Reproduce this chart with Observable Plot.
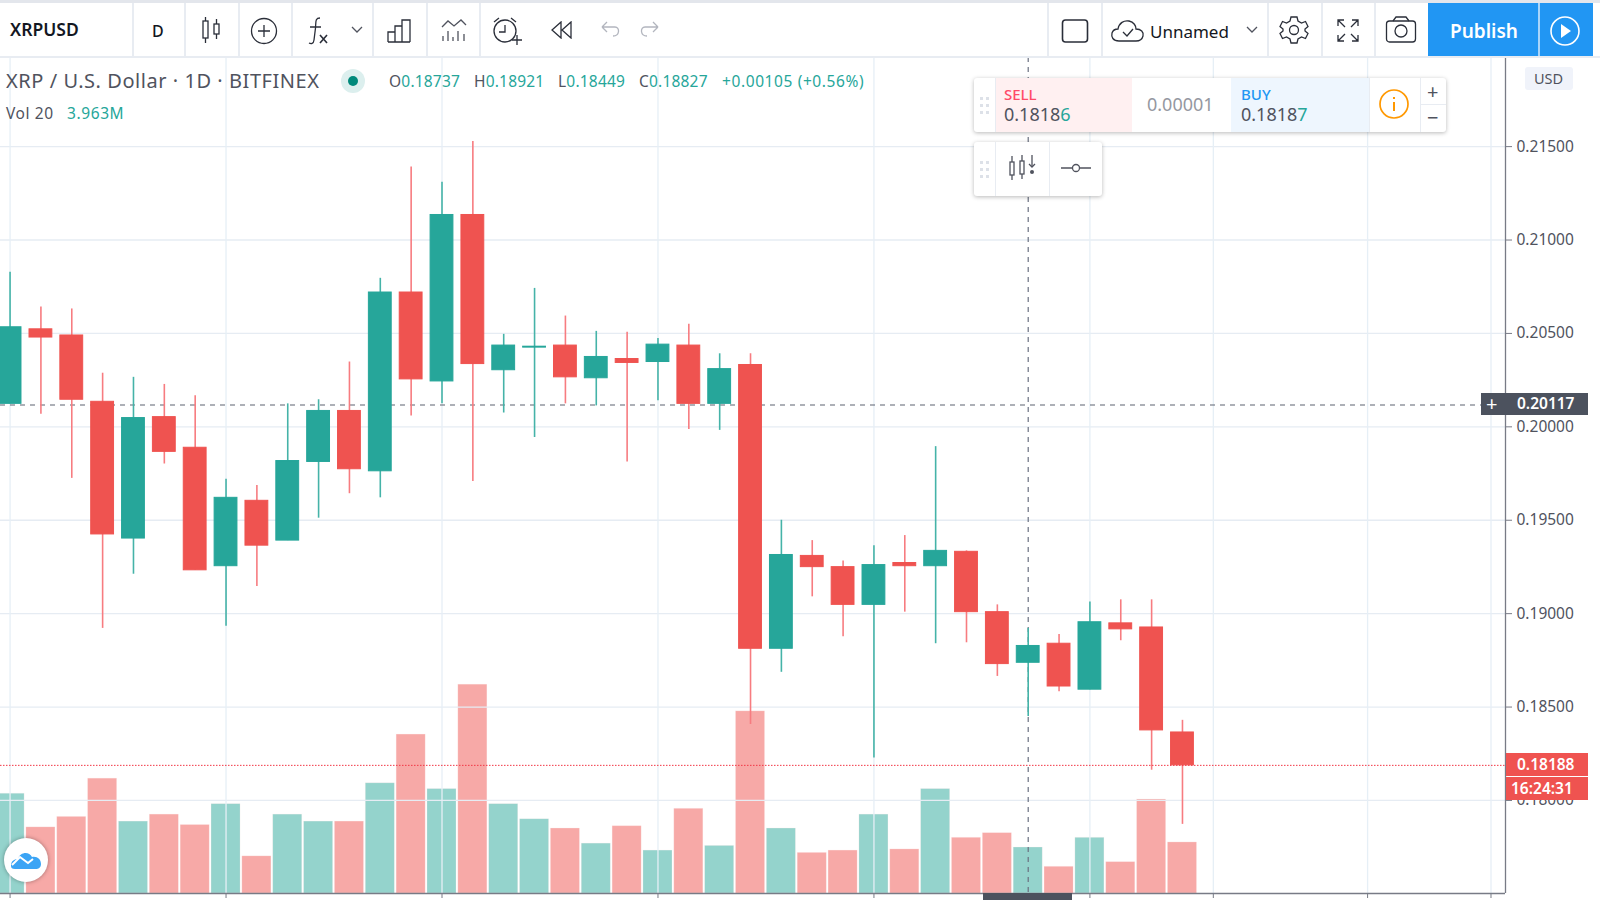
<!DOCTYPE html>
<html><head><meta charset="utf-8">
<script src="https://cdn.jsdelivr.net/npm/d3@7"></script>
<script src="https://cdn.jsdelivr.net/npm/@observablehq/plot@0.6"></script>
<style>
html,body{margin:0;padding:0;background:#fff;width:1600px;height:900px;overflow:hidden;font-family:"Noto Sans",sans-serif}
#stage{position:relative;width:1600px;height:900px;overflow:hidden}
#stage>div.layer{position:absolute;left:0;top:0;width:1600px;height:900px}
.t{position:absolute;white-space:nowrap;line-height:1;transform:translateY(-50%)}
.box{position:absolute}
svg.ic{position:absolute;fill:none;stroke:#2a2e39;stroke-width:1.3}
</style></head><body><div id="stage"></div>
<script>
const highs=[.20828,.20642,.20631,.20287,.20265,.20227,.20167,.19719,.19686,.20123,.20145,.20347,.20795,.21391,.21309,.21527,.20495,.20741,.20593,.20511,.20506,.20473,.20549,.20391,.20391,.195,.19391,.19282,.19364,.19418,.19894,.19336,.19047,.18921,.18888,.19063,.19074,.19074,.18429];
const lows=[.20123,.20068,.19724,.18921,.19211,.19801,.19232,.18932,.19145,.19391,.19511,.19642,.1962,.20058,.20123,.19708,.20074,.19943,.20123,.20112,.19812,.20139,.19986,.19981,.18407,.18686,.1909,.18877,.18227,.19008,.18839,.18844,.18664,.18449,.18582,.18593,.18855,.18162,.17872];
const opens=[.20123,.20522,.20489,.20134,.19402,.20052,.19888,.19254,.19604,.19391,.19812,.20085,.19762,.20719,.20243,.21134,.20303,.20424,.20435,.2026,.20363,.20347,.20435,.20123,.20331,.18812,.19309,.19249,.19047,.19271,.19254,.19331,.19008,.18737,.18839,.18593,.18948,.18926,.18364];
const closes=[.20533,.20478,.20145,.19424,.20047,.19866,.19232,.1962,.19364,.19817,.20085,.19773,.20719,.20254,.21134,.20336,.20435,.20429,.20265,.20374,.20342,.2044,.20123,.20309,.18812,.19314,.19249,.19047,.1926,.19254,.19336,.19008,.1873,.18827,.1861,.18954,.18916,.18375,.18188];
const volumes=[8.6,5.7,6.6,9.9,6.2,6.8,5.9,7.7,3.2,6.8,6.2,6.2,9.5,13.7,9.0,18.0,7.7,6.4,5.6,4.3,5.8,3.7,7.3,4.1,15.7,5.6,3.5,3.7,6.8,3.8,9.0,4.8,5.2,3.963,2.3,4.8,2.7,8.1,4.4];
const priceTicks=[.215,.21,.205,.2,.195,.19,.185,.18];
const gridIdx=[0,7,14,21,28,35,39,44,48];
const crossIdx=33, crossPrice=.20117, lastPrice=.18188;
const ohlcLabels=[["O","0.18737"],["H","0.18921"],["L","0.18449"],["C","0.18827"]];

const TEAL="#26a69a",RED="#ef5350",W=1600,H=900,mT=57,mB=7,mR=95;
const xDom=[-0.31,48.47],yDom=[.17502,.21977];
const candles=highs.map((h,i)=>({i,h,l:lows[i],o:opens[i],c:closes[i],v:volumes[i],
  col:closes[i]>=opens[i]?TEAL:RED,wick:closes[i]>=opens[i]?"#45b3a8":"#f77c80",
  vcol:closes[i]>=opens[i]?"#94d3cc":"#f7a9a7"}));

const stage=document.getElementById("stage");
const base={width:W,height:H,marginTop:mT,marginBottom:mB,marginLeft:0,marginRight:mR,style:{background:"transparent",position:"absolute",left:0,top:0,maxWidth:"none"}};

const vol=Plot.plot({...base,
  x:{domain:xDom,axis:null},y:{domain:[0,72.07],axis:null},color:{type:"identity"},
  marks:[Plot.rectY(candles,{x1:d=>d.i-.47,x2:d=>d.i+.47,y1:0,y2:"v",fill:"vcol",stroke:"#fde9e8",strokeOpacity:.35,strokeWidth:.7})]});

const price=Plot.plot({...base,
  x:{domain:xDom,axis:null},y:{domain:yDom,axis:null},color:{type:"identity"},
  marks:[
    Plot.ruleY(priceTicks,{stroke:"#e6ecf3",strokeWidth:1.3}),
    Plot.ruleX(gridIdx,{stroke:"#e6eff6",strokeWidth:1.3}),
    Plot.ruleX([crossIdx],{stroke:"#6a7080",strokeWidth:1.2,strokeDasharray:"5 5"}),
    Plot.ruleY([crossPrice],{stroke:"#5c6270",strokeWidth:1.2,strokeDasharray:"5 5"}),
    Plot.ruleX(candles,{x:"i",y1:"l",y2:"h",stroke:"wick",strokeWidth:1.6}),
    Plot.rect(candles,{x1:d=>d.i-.37,x2:d=>d.i+.37,y1:"o",y2:"c",fill:"col",stroke:"col",strokeWidth:1}),
    Plot.ruleY([lastPrice],{stroke:"#f23645",strokeWidth:1,strokeDasharray:"1.5 1.5"}),
    Plot.ruleX([xDom[1]],{stroke:"#787b86",strokeWidth:1.3}),
    Plot.ruleY([yDom[0]],{stroke:"#787b86",strokeWidth:1.6}),
    Plot.axisY(priceTicks,{anchor:"right",tickFormat:d3.format(".5f"),tickSize:6,tickPadding:5,fontSize:15.5,
       color:"#50535e",stroke:"#787b86",label:null}),
    Plot.axisX(gridIdx,{anchor:"bottom",tickFormat:()=>"",tickSize:5,color:"#787b86",label:null})
  ]});
const yPx=price.scale("y").apply, xPx=price.scale("x").apply;

[vol,price].forEach(p=>{const d=document.createElement("div");d.className="layer";d.appendChild(p);stage.appendChild(d);});

function box(x,y,w,h,css){const d=document.createElement("div");d.className="box";
  d.style.cssText=`left:${x}px;top:${y}px;width:${w}px;height:${h}px;${css||""}`;stage.appendChild(d);return d;}
function txt(x,y,s,size,color,extra){const d=document.createElement("div");d.className="t";d.textContent=s;
  d.style.cssText=`left:${x}px;top:${y}px;font-size:${size}px;color:${color};${extra||""}`;stage.appendChild(d);return d;}
function ic(x,y,w,h,inner,extra){stage.insertAdjacentHTML("beforeend",
  `<svg class="ic" style="left:${x}px;top:${y}px;${extra||""}" width="${w}" height="${h}" viewBox="0 0 ${w} ${h}">${inner}</svg>`);}

// toolbar
box(0,0,W,57,"background:#fff");
box(0,0,W,3,"background:#e3e6ec");
box(0,56,W,2,"background:#e8ecf2");
[132,184,238,291,372,426,479,1047,1101,1267,1321,1374].forEach(x=>box(x,3,1.5,53,"background:#e8ecf2"));
txt(10,30,"XRPUSD",17.5,"#131722","font-weight:600");
txt(152,31,"D",16,"#131722","font-weight:500");
ic(200,16,24,28,'<rect x="3" y="5" width="5" height="17"/><path d="M5.5 1V5M5.5 22V27"/><rect x="14" y="8" width="5" height="10"/><path d="M16.5 3V8M16.5 18V23"/>');
ic(250,17,28,28,'<circle cx="14" cy="14" r="12.5"/><path d="M14 8V20M8 14H20"/>');
ic(306,16,24,30,'<path d="M14 2C9 2 10 6 9.500 12L8 24C7.500 28 5 28 3 27M4 11H15"/><path d="M14 19L21 27M21 19L14 27" stroke-width="1.6"/>');
ic(351,25,14,10,'<path d="M1 2L6 7L11 2" stroke="#50535e"/>');
ic(387,18,26,25,'<path d="M1 24V14H8V24M8 24V8H15V24M15 24V2H23V24M1 24H23"/>');
ic(440,17,28,26,'<path d="M2 10L8 4L14 9L21 3L26 8" stroke="#50535e"/><path d="M3 19V24M8 14V24M13 20V24M18 14V24M24 17V24" stroke="#50535e"/>');
ic(492,16,32,30,'<circle cx="13" cy="15" r="11"/><path d="M13 9V16H7M2 6L7 2M19 2L24 6"/><path d="M20 24H30M25 19V29"/>');
ic(550,21,24,18,'<path d="M11 1L2 9L11 17ZM21 1L12 9L21 17Z"/>');
ic(600,20,22,18,'<path d="M2 7H15C20 7 20 16 13 16M2 7L7 2M2 7L7 12" stroke="#b2b5be"/>');
ic(638,20,22,18,'<path d="M20 7H7C2 7 2 16 9 16M20 7L15 2M20 7L15 12" stroke="#b2b5be"/>');
ic(1061,17,29,28,'<rect x="1.500" y="3" width="25" height="22" rx="3" stroke-width="1.6"/>');
ic(1110,17,36,27,'<path d="M9 24C3 24 1 20 2 16C3 13 5 12 8 12C9 6 14 3 19 4C24 5 26 9 26 12C31 12 34 15 33 19C32 23 29 24 26 24Z"/><path d="M13 15L17 19L23 12"/>');
txt(1150,31,"Unnamed",17,"#131722");
ic(1246,25,14,10,'<path d="M1 2L6 7L11 2" stroke="#50535e"/>');
ic(1279,15,30,30,'<circle cx="15" cy="15" r="4.500"/><path d="M12 2H18L19 6L22.500 8L26.500 6.500L29 11.500L26 14V16L29 18.500L26.500 23.500L22.500 22L19 24L18 28H12L11 24L7.500 22L3.500 23.500L1 18.500L4 16V14L1 11.500L3.500 6.500L7.500 8L11 6Z"/>');
ic(1335,17,26,27,'<path d="M3 9V3H9M3 3L10 10M23 9V3H17M23 3L16 10M3 18V24H9M3 24L10 17M23 18V24H17M23 24L16 17"/>');
ic(1385,16,32,28,'<rect x="1.500" y="5" width="29" height="21" rx="3"/><circle cx="16" cy="15" r="6"/><path d="M8 5L11 1H21L24 5"/>');
box(1428,3,165,53,"background:#2196f3");
box(1538,3,1.5,53,"background:#a9d5fa");
txt(1450,31,"Publish",19,"#fff","font-weight:600");
ic(1549,15,32,32,'<circle cx="16" cy="16" r="14" stroke="#fff" stroke-width="1.6"/><path d="M12 9L22 16L12 23Z" fill="#fff" stroke="none"/>');

// legend
txt(6,81,"XRP / U.S. Dollar · 1D · BITFINEX",20,"#50535e","letter-spacing:.55px");
box(341,69,24,24,"background:#dcefee;border-radius:50%");
box(348,76,10,10,"background:#00897b;border-radius:50%");
const ohlcX=[389,474,558,639];
ohlcLabels.forEach(([k,v],i)=>{const s=txt(ohlcX[i],82,"",15.5,"#50535e","letter-spacing:.2px");
  s.innerHTML=`${k}<span style="color:#26a69a">${v}</span>`;});
txt(722,82,"+0.00105 (+0.56%)",15.5,"#26a69a","letter-spacing:.6px");
txt(6,114,"Vol 20",15.5,"#50535e","letter-spacing:.6px");
txt(67,114,"3.963M",15.5,"#26a69a","letter-spacing:.6px");

// trade panel
const shadow="box-shadow:0 1px 4px rgba(0,0,0,.28);border-radius:3px;background:#fff";
box(974,78,472,54,shadow);
box(995,78,137,54,"background:#fff0f1");
box(1231,78,138,54,"background:#eef6fe");
box(1420,78,1,54,"background:#e8ecf2");
box(1420,104,26,1,"background:#e8ecf2");
box(995,78,1,54,"background:#e8ecf2");
box(1369,78,1,54,"background:#e8ecf2");
function dots(x,y){[0,1,2].forEach(r=>[0,1].forEach(c=>box(x+c*6,y+r*7,3,3,"background:#dde1e8")));}
dots(980,97);
txt(1004,94,"SELL",15,"#ff4a68","font-weight:500");
const s1=txt(1004,114,"",18,"#50535e");s1.innerHTML='0.1818<span style="color:#26a69a">6</span>';
txt(1147,104,"0.00001",18,"#9598a1");
txt(1241,94,"BUY",15,"#2196f3","font-weight:500");
const s2=txt(1241,114,"",18,"#50535e");s2.innerHTML='0.1818<span style="color:#26a69a">7</span>';
ic(1379,89,30,30,'<circle cx="15" cy="15" r="14" stroke="#ff9800" stroke-width="1.700"/><path d="M15 13V22" stroke="#ff9800" stroke-width="2"/><path d="M15 8V10" stroke="#ff9800" stroke-width="2"/>');
txt(1427,92,"+",20,"#50535e");
txt(1427,118,"−",20,"#50535e");
box(974,142,128,54,shadow);
box(995,142,1,54,"background:#e8ecf2");
box(1049,142,1,54,"background:#e8ecf2");
dots(980,161);
ic(1006,153,32,30,'<path d="M6 3V27M16 2V26M26 2V13" stroke="#50535e"/><rect x="4" y="9" width="4" height="13" fill="#fff" stroke="#50535e"/><rect x="14" y="8" width="4" height="13" fill="#fff" stroke="#50535e"/><circle cx="26" cy="19" r="2" fill="#50535e" stroke="none"/><path d="M23 11L26 14L29 11" stroke="#50535e"/>');
ic(1060,162,32,12,'<path d="M1 6H12M20 6H31" stroke="#50535e"/><circle cx="16" cy="6" r="3.500" stroke="#50535e"/>');

// right-hand scale badges
box(1525,67,48,23,"background:#f0f3fa;border-radius:3px");
txt(1534,78,"USD",14.5,"#50535e");
const yC=yPx(crossPrice), yL=yPx(lastPrice);
box(1481,yC-11,25,22,"background:#4c525e");
txt(1486,yC,"+",20,"#fff");
box(1506,yC-11,82,22,"background:#4c525e");
txt(1517,yC,d3.format(".5f")(crossPrice),15.5,"#fff","font-weight:600");
box(1506,yL-12,82,23,"background:#ef5350");
txt(1517,yL,d3.format(".5f")(lastPrice),15.5,"#fff","font-weight:600");
box(1506,yL+12,82,23,"background:#ef5350");
txt(1511,yL+24,"16:24:31",15.5,"#fff","font-weight:600");
box(xPx(crossIdx)-45,893,89,7,"background:#4c525e");

// logo
box(3.500,838,44,44,"background:#fff;border-radius:50%;box-shadow:0 0 4px rgba(0,0,0,.35)");
ic(10,848,32,22,'<path d="M1 18C1 13 4 11 8 11C10 4 19 3 22 9C27 8 31 11 31 16C31 20 28 21 26 21H5C2 21 1 20 1 18Z" fill="#3ba4f5" stroke="none"/><path d="M2 17L10 9L18 15L23 11" stroke="#fff" stroke-width="2"/>');
</script></body></html>
